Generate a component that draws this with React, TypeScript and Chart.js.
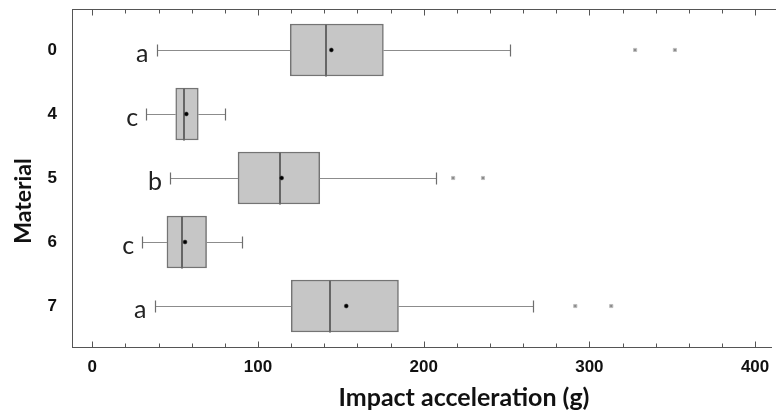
import { useEffect, useRef } from "react";
import { Chart, registerables } from "chart.js";

Chart.register(...registerables);

// ---- data ----
const categories = ["0", "4", "5", "6", "7"];
const whiskerLow = [38.8, 32.5, 46.9, 30.1, 37.6];
const q1 = [119.5, 50.4, 88.0, 45.1, 120.1];
const median = [141.3, 55.2, 113.4, 54.4, 143.3];
const mean = [144.3, 56.8, 114.3, 56.0, 153.3];
const q3 = [175.7, 64.0, 137.3, 69.0, 184.8];
const whiskerHigh = [252.1, 80.4, 207.2, 90.4, 266.1];
const outliers = [[327.6, 351.6], [], [217.8, 235.8], [], [291.5, 313.2]];
const groupLetters = ["a", "c", "b", "c", "a"];
const xTickLabels = [0, 100, 200, 300, 400];
const xMinorStep = 20;

const xTitle = "Impact acceleration (g)";
const yTitle = "Material";

const AXIS_COLOR = "#555555";

const zeroPadding = (scale: any) => {
  scale.paddingTop = 0;
  scale.paddingBottom = 0;
  scale.paddingLeft = 0;
  scale.paddingRight = 0;
};

const boxExtras = {
  id: "boxExtras",
  afterDatasetDraw(chart: any, args: any) {
    if (args.index !== 0) return;
    const ctx = chart.ctx;
    const xs = chart.scales.x;
    const ys = chart.scales.y;
    ctx.save();
    categories.forEach((_, i) => {
      const yc = Math.round(ys.getPixelForValue(i)) + 0.5;
      const xl = Math.round(xs.getPixelForValue(whiskerLow[i])) + 0.5;
      const x1 = xs.getPixelForValue(q1[i]);
      const x3 = xs.getPixelForValue(q3[i]);
      const xh = Math.round(xs.getPixelForValue(whiskerHigh[i])) + 0.5;
      const xm = Math.round(xs.getPixelForValue(median[i]));
      ctx.strokeStyle = "#8c8c8c";
      ctx.lineWidth = 1;
      ctx.beginPath();
      ctx.moveTo(xl, yc);
      ctx.lineTo(x1, yc);
      ctx.moveTo(x3, yc);
      ctx.lineTo(xh, yc);
      ctx.stroke();
      ctx.strokeStyle = "#6e6e6e";
      ctx.lineWidth = 1.2;
      ctx.beginPath();
      ctx.moveTo(xl, yc - 6);
      ctx.lineTo(xl, yc + 6);
      ctx.moveTo(xh, yc - 6);
      ctx.lineTo(xh, yc + 6);
      ctx.stroke();
      const half = 26;
      ctx.strokeStyle = "#666666";
      ctx.lineWidth = 2;
      ctx.beginPath();
      ctx.moveTo(xm, yc - half);
      ctx.lineTo(xm, yc + half);
      ctx.stroke();
    });
    ctx.restore();
  },
  afterDraw(chart: any) {
    const ctx = chart.ctx;
    const xs = chart.scales.x;
    const ys = chart.scales.y;
    const area = chart.chartArea;
    ctx.save();
    const top = Math.round(area.top) + 0.5;
    const bottom = Math.round(area.bottom) + 0.5;
    ctx.strokeStyle = AXIS_COLOR;
    ctx.lineWidth = 1;
    ctx.beginPath();
    ctx.moveTo(area.left, top);
    ctx.lineTo(chart.width, top);
    ctx.stroke();
    ctx.beginPath();
    xs.ticks.forEach((t: any) => {
      const px = Math.round(xs.getPixelForValue(t.value)) + 0.5;
      const len = xTickLabels.includes(t.value) ? 6 : 4;
      ctx.moveTo(px, bottom);
      ctx.lineTo(px, bottom - len);
      ctx.moveTo(px, top);
      ctx.lineTo(px, top + len);
    });
    ctx.stroke();
    ctx.fillStyle = "#222222";
    ctx.font = "25px Lato";
    ctx.textAlign = "right";
    ctx.textBaseline = "alphabetic";
    categories.forEach((_, i) => {
      const yc = ys.getPixelForValue(i);
      const xl = xs.getPixelForValue(whiskerLow[i]);
      ctx.fillText(groupLetters[i], xl - 8, yc + 12);
    });
    ctx.fillStyle = "#111111";
    ctx.font = "bold 25px Lato";
    ctx.textAlign = "center";
    ctx.fillText(xTitle, 464, 406);
    ctx.font = "bold 23px Lato";
    ctx.translate(31, 201);
    ctx.rotate(-Math.PI / 2);
    ctx.fillText(yTitle, 0, 0);
    ctx.restore();
  },
};

export default function App() {
  const ref = useRef<HTMLCanvasElement | null>(null);
  useEffect(() => {
    if (!ref.current) return;
    const boxData = categories.map((_, i) => ({ x: [q1[i], q3[i]], y: i }));
    const meanData = categories.map((_, i) => ({ x: mean[i], y: i }));
    const outlierData: { x: number; y: number }[] = [];
    outliers.forEach((arr, i) => arr.forEach((v) => outlierData.push({ x: v, y: i })));

    const chart = new Chart(ref.current, {
      type: "bar",
      data: {
        datasets: [
          {
            type: "bar",
            data: boxData as any,
            backgroundColor: "#c6c6c6",
            borderColor: "#747474",
            borderWidth: 1.5,
            borderSkipped: false,
            barThickness: 52,
            order: 3,
          } as any,
          {
            type: "scatter",
            data: outlierData,
            pointStyle: "rect",
            pointRadius: 2.2,
            backgroundColor: "#8a8a8a",
            borderColor: "#bdbdbd",
            borderWidth: 1,
            order: 2,
          } as any,
          {
            type: "scatter",
            data: meanData,
            pointStyle: "circle",
            pointRadius: 2,
            backgroundColor: "#000000",
            borderColor: "#333333",
            borderWidth: 0.5,
            order: 1,
          } as any,
        ],
      },
      options: {
        indexAxis: "y",
        animation: false,
        responsive: false,
        devicePixelRatio: 1,
        layout: { padding: { top: 9, left: 0, right: 0, bottom: 0 } },
        plugins: { legend: { display: false }, tooltip: { enabled: false }, title: { display: false } },
        scales: {
          x: {
            type: "linear",
            position: "bottom",
            offset: false,
            min: -12.2,
            max: 409.6,
            afterBuildTicks: (scale: any) => {
              const t = [];
              for (let v = xTickLabels[0]; v <= xTickLabels[xTickLabels.length - 1]; v += xMinorStep) t.push({ value: v });
              scale.ticks = t;
            },
            afterFit: (scale: any) => {
              scale.height = 67;
              zeroPadding(scale);
            },
            grid: { display: false, drawTicks: false, offset: false },
            border: { display: true, color: AXIS_COLOR, width: 1 },
            ticks: {
              autoSkip: false,
              maxRotation: 0,
              padding: 10,
              color: "#111111",
              font: { family: "Liberation Sans", weight: "bold", size: 17 },
              callback: (v: any) => (xTickLabels.includes(Number(v)) ? String(v) : ""),
            },
          },
          y: {
            type: "linear",
            position: "left",
            offset: false,
            reverse: true,
            min: -0.64,
            max: 4.64,
            afterBuildTicks: (scale: any) => {
              scale.ticks = categories.map((_, i) => ({ value: i }));
            },
            afterFit: (scale: any) => {
              scale.width = 72;
              zeroPadding(scale);
            },
            grid: { display: false, drawTicks: false, offset: false },
            border: { display: true, color: AXIS_COLOR, width: 1 },
            ticks: {
              autoSkip: false,
              padding: 15,
              color: "#111111",
              font: { family: "Liberation Sans", weight: "bold", size: 17 },
              callback: (v: any) => categories[Number(v)] ?? "",
            },
          },
        },
      } as any,
      plugins: [boxExtras],
    });
    return () => chart.destroy();
  }, []);

  return (
    <div style={{ position: "fixed", left: 0, top: 0, width: 776, height: 414, background: "#ffffff" }}>
      <canvas ref={ref} width={776} height={414} style={{ display: "block", width: 776, height: 414 }} />
    </div>
  );
}
